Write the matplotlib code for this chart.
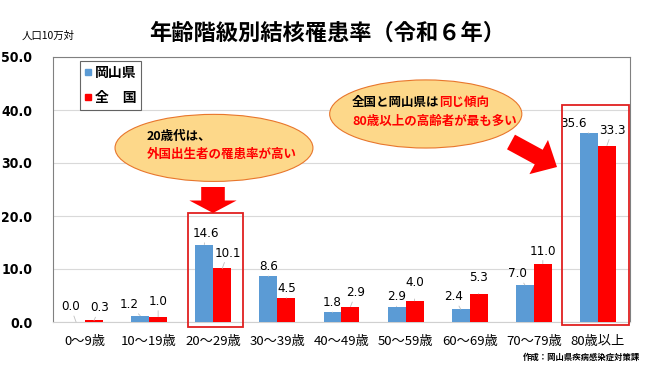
import matplotlib
matplotlib.use('Agg')
import matplotlib.pyplot as plt
from matplotlib.patches import Ellipse, Rectangle, FancyArrowPatch
from matplotlib.lines import Line2D
from matplotlib import font_manager
import numpy as np

plt.rcParams['font.family'] = ['Noto Sans CJK JP', 'DejaVu Sans']

ages = ['0～9歳', '10～19歳', '20～29歳', '30～39歳', '40～49歳',
        '50～59歳', '60～69歳', '70～79歳', '80歳以上']
okayama = [0.0, 1.2, 14.6, 8.6, 1.8, 2.9, 2.4, 7.0, 35.6]
zenkoku = [0.3, 1.0, 10.1, 4.5, 2.9, 4.0, 5.3, 11.0, 33.3]
yticks = [0, 10, 20, 30, 40, 50]

# label offsets in points (dx, dy) from the bar top
off_ok = [(-4, 11), (-8, 8), (1, 8), (0, 7), (0, 7), (0, 7), (-5, 9), (-5, 8), (-11, 7)]
off_zk = [(4, 9), (0, 11), (4, 11), (0, 7), (4, 10), (0, 13), (0, 12), (0, 9), (4, 11)]

blue = '#5B9BD5'
red = '#FF0000'

# narrow font for the numbers, if one is there
fonts = font_manager.fontManager.ttflist
names = {f.name for f in fonts}
num_kw = {'family': ['Roboto', 'DejaVu Sans']}
if 'Liberation Sans Narrow' in names:
    num_kw = {'family': ['Liberation Sans Narrow', 'DejaVu Sans']}
elif any(f.name == 'DejaVu Sans' and f.stretch == 'condensed' for f in fonts):
    num_kw = {'family': ['DejaVu Sans'], 'stretch': 'condensed'}

fig = plt.figure(figsize=(6.5, 3.65), dpi=100)
ax = fig.add_axes([53 / 650, 43 / 365, 577 / 650, 265 / 365])

x = np.arange(len(ages))
w = 0.28
ax.bar(x - w / 2, okayama, w, color=blue, zorder=3)
ax.bar(x + w / 2, zenkoku, w, color=red, zorder=3)

for i in range(len(ages)):
    for xv, v, off in ((x[i] - w / 2, okayama[i], off_ok[i]), (x[i] + w / 2, zenkoku[i], off_zk[i])):
        ax.annotate(f'{v:.1f}', xy=(xv, v), xytext=off, textcoords='offset points',
                    ha='center', va='center', fontsize=9.5, **num_kw,
                    arrowprops=dict(arrowstyle='-', color='#c0c0c0', lw=0.6,
                                    shrinkA=5, shrinkB=0),
                    zorder=4)

ax.set_xlim(-0.5, 8.5)
ax.set_ylim(0, 50)
ax.set_yticks(yticks)
ax.set_yticklabels([f'{v:.1f}' for v in yticks], fontsize=10, fontweight='bold', **num_kw)
ax.set_xticks(x)
ax.set_xticklabels(ages, fontsize=9.5)
ax.tick_params(axis='y', length=0, pad=15)
ax.tick_params(axis='x', length=0, pad=9)
ax.grid(axis='y', color='#d9d9d9', lw=0.8, zorder=0)
for s in ax.spines.values():
    s.set_color('#808080')
    s.set_linewidth(0.8)
ax.spines['bottom'].set_color('#d0d0d0')

handles = [Line2D([], [], marker='s', ls='', color=blue, markersize=5),
           Line2D([], [], marker='s', ls='', color=red, markersize=5)]
leg = ax.legend(handles, ['岡山県', '全　国'], loc='upper left', bbox_to_anchor=(0.047, 0.985),
                borderaxespad=0, frameon=True, fancybox=False, edgecolor='#404040',
                handlelength=0.5, handletextpad=0.2, labelspacing=0.8, borderpad=0.35,
                prop={'weight': 'bold', 'size': 10})
leg.get_frame().set_linewidth(0.8)

# highlight boxes
ax.add_patch(Rectangle((1.6, -0.9), 0.86, 21.5, fill=False, ec='#E02020', lw=1.3,
                       clip_on=False, zorder=5))
ax.add_patch(Rectangle((7.44, -0.6), 1.05, 41.5, fill=False, ec='#E02020', lw=1.3,
                       clip_on=False, zorder=5))

# speech ellipses
for cx, cy, ew, eh in ((0.279, 0.657, 0.343, 0.253), (0.646, 0.785, 0.333, 0.257)):
    ax.add_patch(Ellipse((cx, cy), ew, eh, transform=ax.transAxes, fc='#FDD88A',
                         ec='#E8762C', lw=0.8, clip_on=False, zorder=6))

ax.text(0.162, 0.70, '20歳代は、', transform=ax.transAxes, fontsize=9,
        fontweight='bold', va='center', ha='left', zorder=7)
ax.text(0.162, 0.632, '外国出生者の罹患率が高い', transform=ax.transAxes, fontsize=9,
        fontweight='bold', color=red, va='center', ha='left', zorder=7)
t2 = ax.text(0.518, 0.83, '全国と岡山県は', transform=ax.transAxes, fontsize=9,
             fontweight='bold', va='center', ha='left', zorder=7)
ax.annotate('同じ傾向', xy=(1, 0.5), xycoords=t2, ha='left', va='center', fontsize=9,
            fontweight='bold', color=red, zorder=7)
ax.text(0.518, 0.758, '80歳以上の高齢者が最も多い', transform=ax.transAxes, fontsize=9,
        fontweight='bold', color=red, va='center', ha='left', zorder=7)

# arrows (figure pixels, origin bottom-left)
fig.patches.append(FancyArrowPatch(
    (213, 178), (213, 152), transform=None, mutation_scale=1, color=red, lw=0,
    arrowstyle='simple,head_width=34,head_length=9,tail_width=17', shrinkA=0, shrinkB=0))
fig.patches.append(FancyArrowPatch(
    (511, 223), (557, 198), transform=None, mutation_scale=1, color=red, lw=0,
    arrowstyle='simple,head_width=28,head_length=15,tail_width=12', shrinkA=0, shrinkB=0))

fig.text(327 / 650, 1 - 33 / 365, '年齢階級別結核罹患率（令和６年）', ha='center', va='center',
         fontsize=16, fontweight='bold')
fig.text(22 / 650, 1 - 36 / 365, '人口10万対', ha='left', va='center', fontsize=7.5)
fig.text(640 / 650, 1 - 357 / 365, '作成：岡山県疾病感染症対策課', ha='right', va='center',
         fontsize=6, fontweight='bold')

fig.savefig('out.png', dpi=100)
